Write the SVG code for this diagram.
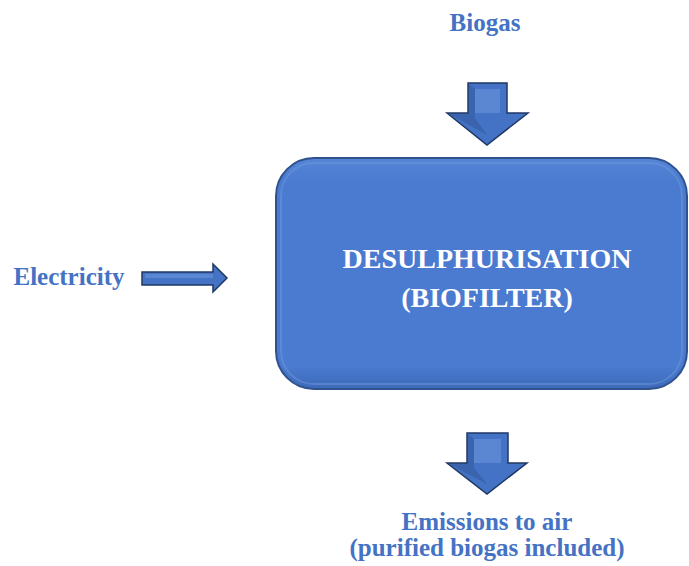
<svg xmlns="http://www.w3.org/2000/svg" width="689" height="566" viewBox="0 0 689 566">
<style>
.lbl{font-weight:bold;fill:#4472c4;font-size:25px;text-anchor:middle}
.box-t{font-weight:bold;fill:#ffffff;font-size:28px;text-anchor:middle}
.arr{fill:#4472c4;stroke:#1f3864;stroke-width:1.5;stroke-linejoin:miter}
.facet{fill:#3a64ad;stroke:none}
.hl{fill:#5a86d2;stroke:none}
</style>
<defs>
<linearGradient id="boxg" x1="0" y1="0" x2="0" y2="1">
<stop offset="0" stop-color="#5585d6"/>
<stop offset="0.1" stop-color="#4a7bd0"/>
<stop offset="0.9" stop-color="#4a7bd0"/>
<stop offset="1" stop-color="#3d69b8"/>
</linearGradient>
</defs>
<rect width="689" height="566" fill="#ffffff"/>
<g id="biogas">
<text class="lbl" font-family="Liberation Serif" x="485" y="31">Biogas</text>
</g>
<g id="electricity">
<text class="lbl" font-family="Liberation Serif" x="69" y="285">Electricity</text>
</g>
<g id="desulphurisation">
<rect x="276" y="158" width="411" height="231" rx="38" ry="38" fill="url(#boxg)" stroke="#2f528f" stroke-width="2"/>
<rect x="281" y="163" width="401" height="221" rx="33" ry="33" fill="none" stroke="#6f98dc" stroke-width="2" opacity="0.5"/>
<text class="box-t" font-family="Liberation Serif" x="487" y="268">DESULPHURISATION</text>
<text class="box-t" font-family="Liberation Serif" x="487" y="307">(BIOFILTER)</text>
</g>
<g id="emissions">
<text class="lbl" font-family="Liberation Serif" x="487" y="530">Emissions to air</text>
<text class="lbl" font-family="Liberation Serif" x="487" y="556">(purified biogas included)</text>
</g>
<g id="connectors">
<polygon class="arr" points="468,83 507,83 507,113 528,113 487,145 447,113 468,113"/>
<polygon class="facet" points="469,84 475,89 475,118 487,135 449,114 469,114"/>
<polygon class="hl" points="475,89 500,89 500,113 475,113"/>
<polygon class="arr" points="142,272 213,272 213,264 227,278 213,292 213,285 142,285"/>
<polygon class="hl" points="145,274 213,274 213,278 145,278"/>
<polygon class="arr" points="467,433 508,433 508,463 527,463 487,494 447,463 467,463"/>
<polygon class="facet" points="468,434 474,439 474,468 487,484 449,464 468,464"/>
<polygon class="hl" points="474,439 501,439 501,463 474,463"/>
</g>
</svg>
